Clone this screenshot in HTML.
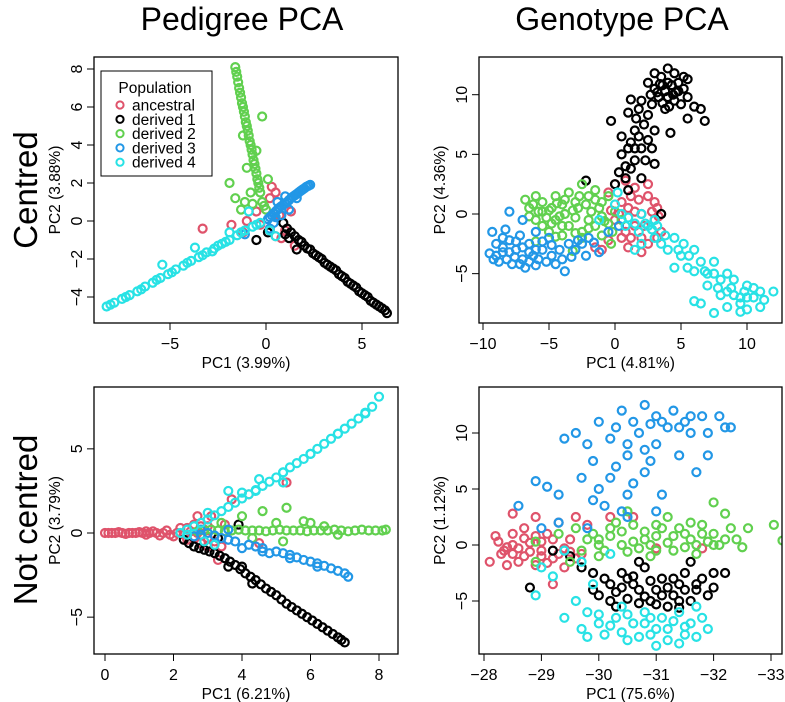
<!DOCTYPE html>
<html><head><meta charset="utf-8"><style>
body{margin:0;background:#fff}
svg{display:block;font-family:"Liberation Sans",sans-serif}
</style></head><body>
<svg id="s" width="785" height="702" viewBox="0 0 785 702">
<text x="242" y="30" font-size="32" text-anchor="middle">Pedigree PCA</text>
<text x="622" y="30" font-size="32" text-anchor="middle">Genotype PCA</text>
<text transform="translate(37,190) rotate(-90)" font-size="33" text-anchor="middle">Centred</text>
<text transform="translate(37,520) rotate(-90)" font-size="33" text-anchor="middle">Not centred</text>
</svg>
<script>
const colors=["#DF536B","#000000","#61D04F","#2297E6","#28E2E5"];
const seriesNames=["ancestral","derived 1","derived 2","derived 3","derived 4"];
// Panel 1: pedigree centred
const p1Anc=[[0.3,1.8],[0.5,1.5],[0.2,1.2],[-0.5,0.5],[-1,0],[-1.8,-0.2],[-3.3,-0.4],[0.5,-0.8],[0.8,-0.9],[1.5,-1.3],[1,-0.5],[-0.3,-0.2],[0.7,0.3],[1.3,0.5],[-1.2,-0.6],[0.2,-0.5]];
const p1D1=[[0.9,-0.1],[1.1,-0.4],[1.3,-0.6],[1.0,-0.7],[1.5,-0.8],[1.7,-1.0],[2.0,-1.3],[1.6,-1.5],[2.3,-1.5],[2.6,-1.8],[2.9,-2.0],[3.2,-2.3],[3.5,-2.5],[3.8,-2.8],[4.1,-3.0],[4.4,-3.3],[4.7,-3.5],[5.0,-3.8],[5.3,-4.0],[5.6,-4.3],[5.9,-4.5],[6.2,-4.7],[6.3,-4.85],[-0.5,-1.0],[0.1,-0.6],[2.15,-1.45],[2.75,-1.9],[3.35,-2.4],[3.95,-2.9],[4.55,-3.4],[5.15,-3.9],[5.75,-4.4],[1.2,-0.9],[1.85,-1.1],[2.45,-1.7],[3.05,-2.2],[3.65,-2.6],[4.25,-3.2],[4.85,-3.7],[5.45,-4.2],[6.05,-4.6]];
const p1D2=[[-1.6,8.1],[-1.5,7.6],[-1.4,7.0],[-1.3,6.5],[-1.2,6.0],[-1.1,5.5],[-1.0,5.0],[-0.9,4.5],[-0.8,4.0],[-0.7,3.5],[-0.6,3.0],[-0.5,2.5],[-0.4,2.0],[-0.3,1.5],[-0.2,1.0],[0,0.6],[-1.9,2.0],[-1.6,1.2],[-1.3,0.6],[-0.8,1.5],[-1.0,2.8],[-0.2,5.5],[-0.5,3.7],[0.1,2.2],[-1.2,4.5],[-1.1,1.0],[-0.7,0.9],[-1.45,7.3],[-1.25,6.2],[-1.05,5.2],[-0.85,4.2],[-0.65,3.2],[-0.45,2.2],[-1.55,7.85],[-1.35,6.75],[-1.15,5.75],[-0.95,4.75],[-0.75,3.75],[-0.55,2.75],[-0.35,1.75],[-0.1,0.8]];
const p1D3=[[0.1,0.1],[0.3,0.3],[0.5,0.5],[0.7,0.7],[0.9,0.85],[1.1,1.0],[1.3,1.2],[1.5,1.35],[1.7,1.5],[1.9,1.65],[2.1,1.8],[2.3,1.9],[0.4,-0.1],[0.8,0.3],[1.2,0.6],[0.2,-0.4],[-1.1,-0.7],[0.6,1.0],[1.0,1.3],[1.6,1.2],[0.5,0.2],[0.2,0.2],[0.4,0.4],[0.6,0.6],[0.8,0.78],[1.0,0.92],[1.2,1.1],[1.4,1.28],[1.6,1.42],[1.8,1.58],[2.0,1.72],[2.2,1.85]];
const p1D4=[[-0.3,-0.1],[-0.7,-0.3],[-1.1,-0.5],[-1.5,-0.75],[-1.9,-1.0],[-2.3,-1.2],[-2.7,-1.45],[-3.1,-1.65],[-3.5,-1.9],[-3.9,-2.1],[-4.3,-2.35],[-4.7,-2.55],[-5.1,-2.8],[-5.5,-3.0],[-5.9,-3.25],[-6.3,-3.45],[-6.7,-3.7],[-7.1,-3.9],[-7.5,-4.1],[-7.9,-4.3],[-8.3,-4.5],[-1.9,-0.6],[-2.8,-1.6],[-5.4,-2.3],[-3.7,-1.4],[-0.9,0.5],[0.2,-0.5],[0.5,-0.8],[-2.5,-1.3],[-3.3,-1.8],[-4.1,-2.2],[-4.9,-2.7],[-5.7,-3.1],[-6.5,-3.6],[-7.3,-4.0],[-8.1,-4.4],[-0.5,-0.2],[-1.3,-0.6],[-2.1,-1.1]];
// Panel 2: genotype centred
const p2Anc=[[-0.5,1.8],[0,2.5],[0.8,2.8],[1.5,2.2],[2.5,1.5],[3.0,1.0],[3.2,0.5],[3.0,-0.5],[3.5,-1.5],[2.5,-2.5],[2.0,-3.2],[1.0,-2.8],[0.5,-2.0],[-0.5,-2.2],[-1.0,-3.0],[-1.5,-2.8],[1.0,0.5],[2.0,0],[0,-0.5],[1.5,-1.0],[2.5,2.5],[1.8,1.2],[0.5,1.0],[-0.3,0.3],[3.2,-2.0],[0.8,-1.5],[1.5,0.2],[2.2,-1.0],[2.8,0.2],[1.2,1.5],[0.3,0.0],[2.0,-2.0],[1.2,-2.0],[3.3,-0.2]];
const p2D1=[[0,2.5],[0.3,3.5],[0.8,4.0],[0.5,5.0],[1.0,5.5],[1.5,4.5],[1.2,6.0],[1.8,6.5],[2.0,5.5],[1.5,7.0],[2.2,7.5],[1.0,8.5],[1.8,8.8],[2.5,8.3],[2.8,9.2],[3.0,10.5],[3.5,11.5],[4.0,12.2],[3.3,9.8],[3.8,10.3],[4.3,10.8],[4.8,11.0],[5.2,10.5],[4.5,9.5],[3.8,8.8],[5.0,9.2],[5.5,9.8],[6.0,9.0],[6.5,8.8],[6.8,7.8],[5.5,8.0],[4.2,6.8],[3.0,7.0],[2.5,6.2],[3.0,4.2],[2.0,3.0],[-0.3,7.8],[2.5,11.0],[3.0,11.8],[4.5,11.8],[5.5,11.3],[2.0,9.5],[1.2,9.6],[3.5,0],[1.0,2.0],[-2.2,2.8],[0.5,6.5],[4.0,9.8],[3.6,10.8],[4.6,10.2],[3.2,10.2],[3.6,9.3],[4.0,11.0],[4.4,10.0],[4.8,10.3],[5.2,11.5],[3.4,10.9],[4.1,9.0],[2.7,10.0],[1.6,8.0],[2.3,4.5],[1.2,3.8],[0.8,3.0],[2.8,5.5],[1.5,5.5]];
const p2D2=[[-6.8,1.2],[-6.5,0.5],[-6.0,1.5],[-5.5,1.0],[-5.0,0.3],[-4.5,1.5],[-4.0,0.8],[-3.5,1.8],[-3.0,1.0],[-2.5,2.5],[-2.0,1.5],[-1.5,2.0],[-1.0,1.0],[-0.5,1.5],[-6.0,-0.5],[-5.5,-1.0],[-5.0,-1.5],[-4.5,-0.5],[-4.0,-1.8],[-3.5,-1.0],[-3.0,-0.3],[-2.5,-1.5],[-2.0,-0.5],[-1.5,-1.0],[-1.0,-0.2],[-0.5,-0.8],[0,0.2],[0.5,-0.5],[-6.0,-2.3],[-3.2,-3.1],[-4.5,-1.9],[-2.5,-2.0],[-0.3,-2.5],[-5.8,0.2],[-3.8,0],[-2.8,0.5],[-1.8,0.2],[-4.8,-0.8],[-6.5,-0.2],[-5.5,0.2],[-4.8,0.5],[-4.2,-0.2],[-3.8,1.2],[-3.2,0.3],[-2.2,0.8],[-1.2,0.5],[-0.8,-0.6],[-5.2,-0.3],[-4.0,-1.0],[-3.0,-1.6],[-2.0,-1.2],[-6.2,0.8],[-1.5,1.2],[-2.7,1.5],[-4.4,0.9],[-0.2,-1.5],[-1.0,-1.8]];
const p2D3=[[-9.3,-1.5],[-9.5,-3.3],[-9.0,-2.5],[-8.8,-4.0],[-8.5,-3.2],[-8.3,-1.3],[-8.0,-2.2],[-8.0,0.2],[-7.8,-4.2],[-7.5,-3.0],[-7.2,-1.8],[-7.0,-3.8],[-6.8,-4.5],[-6.5,-2.5],[-6.2,-3.5],[-6.0,-4.3],[-5.5,-3.0],[-5.2,-4.0],[-5.0,-2.0],[-4.8,-3.5],[-4.5,-4.2],[-4.2,-3.0],[-3.8,-4.8],[-3.5,-2.5],[-3.0,-3.0],[-2.5,-2.5],[-2.2,-3.5],[-2.0,-2.0],[-1.2,-3.2],[-0.5,-1.5],[0.3,-1.0],[-7.0,-0.5],[-6.0,-1.5],[-8.5,-2.8],[-9.2,-3.8],[-7.2,-4.2],[-6.5,-3.2],[-9.0,-3.5],[-8.5,-2.0],[-8.0,-3.2],[-7.5,-2.3],[-7.0,-2.8],[-6.5,-4.0],[-5.8,-3.8],[-5.5,-2.3],[-4.8,-2.6],[-4.0,-3.8],[-3.3,-3.6],[-2.8,-2.2],[-6.0,-3.0],[-8.2,-3.8],[-7.6,-3.6],[-1.6,-2.4]];
const p2D4=[[0.2,1.8],[0,0.8],[0.5,0],[1.0,-0.3],[1.5,-0.8],[2.0,0],[2.5,-1.0],[3.0,-2.0],[2.0,-2.5],[1.5,-3.0],[3.5,-2.5],[4.0,-3.0],[4.5,-2.0],[5.0,-3.5],[4.5,-4.5],[5.5,-4.5],[6.0,-3.0],[6.5,-4.0],[7.0,-5.0],[7.5,-4.0],[7.0,-6.0],[8.0,-5.5],[8.5,-6.5],[9.0,-5.5],[9.5,-7.0],[10.0,-6.0],[10.5,-7.0],[11.0,-6.5],[12.0,-6.5],[11.0,-7.8],[9.5,-7.5],[8.5,-7.8],[7.5,-8.3],[6.5,-7.5],[6.0,-7.3],[10.0,-8.0],[8.0,-6.8],[9.5,-8.2],[3.0,-0.5],[-1.2,-0.5],[1.8,-1.5],[2.8,-1.3],[3.8,-1.8],[5.2,-2.5],[6.0,-4.8],[7.5,-5.0],[8.5,-5.0],[9.0,-6.8],[10.0,-7.0],[10.5,-6.2],[11.3,-7.2],[9.8,-6.5],[8.8,-6.2],[7.8,-6.2],[6.8,-4.8],[5.6,-3.5],[4.8,-3.0],[3.2,-1.0],[0.8,-1.0],[2.3,-0.8]];
// Panel 3: pedigree not centred
const p3Anc=[[0,0],[0.2,0],[0.4,0.05],[0.6,-0.05],[0.8,0],[1.0,0.05],[1.2,-0.1],[1.4,0.1],[1.6,-0.15],[1.8,0.15],[2.0,-0.2],[2.2,0.3],[2.4,-0.4],[2.6,0.5],[2.8,-0.6],[2.4,0.3],[3.0,-0.8],[3.2,-1.2],[3.3,-1.6],[2.7,1.0],[3.1,1.0],[3.7,2.0],[4.2,2.3],[5.3,3.0],[4.5,-0.6],[2.9,0.2],[3.5,0.5],[1.5,0],[0.9,0],[0.3,0],[2.1,0],[2.7,0],[1.2,0.1],[1.9,-0.1],[0.1,0],[0.5,0],[0.7,0],[1.1,0],[1.3,0],[1.7,0],[2.3,-0.1],[2.5,0.1],[2.6,-0.3],[2.8,0.4],[3.0,-0.3],[3.0,0.4],[3.2,-0.5],[3.4,-0.8]];
const p3D1=[[2.3,-0.4],[2.6,-0.8],[2.9,-1.0],[3.2,-1.2],[3.5,-1.5],[3.8,-1.9],[4.1,-2.4],[4.4,-2.8],[4.7,-3.3],[5.0,-3.7],[5.3,-4.2],[5.6,-4.6],[5.9,-5.0],[6.2,-5.4],[6.5,-5.8],[6.8,-6.2],[7.0,-6.5],[3.6,-2.0],[4.0,-2.0],[4.3,-3.0],[3.3,-0.3],[3.9,0.5],[4.85,-3.5],[5.45,-4.4],[6.05,-5.2],[6.65,-6.0],[2.45,-0.6],[2.75,-0.9],[3.05,-1.1],[3.35,-1.35],[3.65,-1.7],[3.95,-2.15],[4.25,-2.6],[4.55,-3.05],[5.15,-3.95],[5.75,-4.8],[6.35,-5.6],[6.9,-6.35]];
const p3D2=[[2.7,0.1],[3.1,0.2],[3.5,0.1],[3.9,0.2],[4.3,0.15],[4.7,0.1],[5.1,0.2],[5.5,0.15],[5.9,0.1],[6.3,0.15],[6.7,0.2],[7.1,0.1],[7.5,0.2],[7.9,0.15],[8.2,0.2],[4.6,1.3],[5.3,1.5],[4.0,1.0],[5.8,0.7],[5.2,-0.5],[6.0,0.6],[3.4,0.6],[4.3,-0.3],[6.8,-0.1],[2.9,0.15],[3.3,0.15],[3.7,0.15],[4.1,0.15],[4.5,0.15],[4.9,0.15],[5.3,0.15],[5.7,0.15],[6.1,0.15],[6.5,0.15],[6.9,0.15],[7.3,0.15],[7.7,0.15],[8.1,0.15],[5.0,0.6],[6.4,0.4]];
const p3D3=[[2.6,-0.2],[3.0,0],[3.4,-0.3],[3.8,-0.5],[4.2,-0.7],[4.6,-0.9],[5.0,-1.1],[5.4,-1.3],[5.8,-1.6],[6.2,-1.8],[6.6,-2.1],[7.0,-2.4],[7.1,-2.6],[4.0,-0.9],[4.8,-1.2],[3.6,0.2],[2.8,0.2],[2.8,-0.1],[3.2,-0.15],[3.6,-0.4],[4.4,-0.8],[5.2,-1.2],[5.6,-1.45],[6.0,-1.7],[6.4,-1.95],[6.8,-2.25],[4.6,-1.1],[5.4,-1.5],[6.2,-2.0]];
const p3D4=[[2.2,0],[2.6,0.4],[3.0,0.8],[3.4,1.3],[3.8,1.8],[4.2,2.3],[4.6,2.8],[5.0,3.3],[5.4,3.9],[5.8,4.4],[6.2,5.0],[6.6,5.6],[7.0,6.2],[7.4,6.8],[7.8,7.5],[8.0,8.1],[3.6,2.5],[2.4,-0.1],[2.9,-0.5],[3.2,-0.7],[4.5,3.2],[5.2,3.0],[4.4,2.55],[5.2,3.6],[6.0,4.7],[6.8,5.9],[7.6,7.1],[2.4,0.2],[2.8,0.6],[3.2,1.05],[3.6,1.55],[4.0,2.05],[4.4,2.5],[4.8,3.05],[5.2,3.6],[5.6,4.15],[6.0,4.7],[6.4,5.3],[6.8,5.9],[7.2,6.5],[7.6,7.15],[3.0,1.2],[4.0,2.4]];
// Panel 4: genotype not centred
const p4Anc=[[-28.1,-1.5],[-28.2,0.8],[-28.25,0.3],[-28.35,-0.5],[-28.4,-1.8],[-28.5,2.8],[-28.5,1.0],[-28.6,-0.3],[-28.7,-1.0],[-28.7,1.5],[-28.8,0.2],[-28.9,-1.8],[-28.9,2.5],[-29.0,-0.5],[-29.1,1.0],[-29.2,-1.2],[-29.3,2.0],[-29.4,-2.0],[-29.5,0.5],[-29.6,2.5],[-29.7,-0.8],[-29.8,1.8],[-30.2,2.5],[-30.6,2.5],[-29.2,-3.5],[-28.5,-0.8],[-28.9,0.8],[-29.4,-0.3],[-31.0,-0.3],[-31.8,-0.3],[-28.3,-0.8],[-28.5,0.0],[-28.6,-1.5],[-28.7,0.6],[-28.8,-0.6],[-29.0,0.3],[-29.1,-1.6],[-29.2,0.5],[-29.3,-0.8],[-29.5,-0.6],[-28.4,-0.2],[-29.6,-1.2],[-29.0,-1.0]];
const p4D1=[[-29.2,-0.5],[-29.5,-1.0],[-29.7,-2.0],[-29.9,-2.5],[-30.0,-4.5],[-30.2,-3.5],[-30.4,-2.5],[-30.5,-4.8],[-30.6,-3.5],[-30.8,-2.0],[-30.9,-5.0],[-31.0,-4.0],[-31.1,-3.0],[-31.2,-5.5],[-31.3,-4.5],[-31.4,-3.5],[-31.5,-2.5],[-31.6,-5.0],[-31.7,-4.0],[-31.8,-3.0],[-31.9,-4.5],[-32.0,-2.5],[-32.2,-2.5],[-32.0,-3.8],[-28.8,-3.8],[-29.9,-4.0],[-30.3,-5.5],[-30.7,-1.5],[-31.4,-5.0],[-31.6,-1.5],[-30.1,-3.0],[-30.3,-4.2],[-30.5,-3.0],[-30.7,-4.0],[-30.7,-5.2],[-30.9,-3.2],[-31.1,-4.5],[-31.3,-3.0],[-31.5,-4.0],[-31.7,-3.5],[-30.2,-5.0],[-30.6,-2.8],[-31.0,-5.3],[-31.4,-5.6],[-31.2,-3.8],[-30.4,-3.8],[-30.8,-4.6]];
const p4D2=[[-28.9,0.3],[-29.3,1.0],[-29.6,1.5],[-29.8,0.5],[-30.0,-1.0],[-30.2,1.5],[-30.4,0],[-30.6,1.8],[-30.8,0.5],[-31.0,-0.5],[-31.1,1.5],[-31.3,0.8],[-31.5,-0.2],[-31.6,2.0],[-31.8,1.0],[-32.0,0],[-32.0,3.8],[-32.2,2.8],[-32.3,1.5],[-32.4,0.5],[-32.6,1.5],[-33.05,1.8],[-33.2,0.4],[-30.5,3.0],[-31.2,2.5],[-30.0,0.5],[-29.5,-1.5],[-28.9,-1.5],[-29.7,-0.5],[-30.9,-1.0],[-31.7,-0.8],[-32.5,-0.2],[-30.0,0.0],[-30.2,0.8],[-30.4,1.2],[-30.6,0.3],[-30.8,1.2],[-31.0,0.8],[-31.2,0.2],[-31.4,1.5],[-31.6,0.5],[-31.8,1.8],[-32.0,1.0],[-32.2,0.5],[-30.1,-0.5],[-30.5,-0.6],[-30.9,0.0],[-31.3,-0.5],[-31.7,0.0],[-32.1,0.0],[-30.3,2.0],[-31.0,1.8],[-31.5,1.0],[-29.9,1.0],[-30.7,-0.3],[-31.9,0.3]];
const p4D3=[[-28.6,3.5],[-28.9,5.7],[-29.1,5.2],[-29.3,4.5],[-29.4,9.5],[-29.6,10.0],[-29.8,9.0],[-29.9,7.5],[-29.7,6.0],[-30.0,11.0],[-30.0,5.0],[-30.1,3.5],[-30.2,9.5],[-30.3,7.0],[-30.4,12.0],[-30.5,8.0],[-30.5,4.5],[-30.6,11.0],[-30.7,10.0],[-30.8,6.5],[-30.8,12.5],[-31.0,11.5],[-31.0,9.0],[-31.1,4.5],[-31.2,10.5],[-31.3,12.0],[-31.4,8.0],[-31.5,11.0],[-31.6,10.0],[-31.7,6.5],[-31.8,11.5],[-31.9,10.0],[-32.1,11.5],[-32.2,10.5],[-32.3,10.5],[-31.9,8.0],[-29.3,2.0],[-29.8,1.5],[-30.5,2.5],[-31.0,3.0],[-29.0,1.5],[-30.3,10.5],[-30.9,10.8],[-31.1,11.0],[-31.4,10.5],[-31.6,11.5],[-30.5,9.0],[-30.8,8.5],[-30.2,6.0],[-30.6,5.5],[-30.9,7.5],[-29.9,4.0],[-30.4,3.0]];
const p4D4=[[-28.9,-4.5],[-29.2,-2.8],[-29.4,-6.5],[-29.6,-5.0],[-29.7,-7.5],[-29.8,-6.0],[-29.9,-3.5],[-30.0,-7.0],[-30.1,-8.0],[-30.3,-6.5],[-30.4,-5.5],[-30.5,-8.5],[-30.6,-7.0],[-30.8,-6.0],[-30.9,-8.0],[-31.0,-9.0],[-31.1,-6.5],[-31.2,-7.5],[-31.4,-6.0],[-31.5,-8.0],[-31.6,-7.0],[-31.8,-6.5],[-31.9,-7.5],[-31.7,-5.5],[-29.4,-0.5],[-29.7,-1.5],[-30.2,-0.8],[-29.0,-2.0],[-30.2,-7.2],[-30.4,-7.8],[-30.7,-8.2],[-30.8,-7.0],[-31.0,-7.5],[-31.2,-8.5],[-31.3,-6.8],[-31.5,-7.3],[-30.5,-6.2],[-30.9,-6.5],[-31.7,-8.2],[-29.8,-8.2],[-30.0,-6.2],[-31.4,-8.8]];
const p1XTicks=[-5,0,5], p1YTicks=[-4,-2,0,2,4,6,8];
const p2XTicks=[-10,-5,0,5,10], p2YTicks=[-5,0,5,10];
const p3XTicks=[0,2,4,6,8], p3YTicks=[-5,0,5];
const p4XTicks=[-28,-29,-30,-31,-32,-33], p4YTicks=[-5,0,5,10];

const NS="http://www.w3.org/2000/svg";
const svg=document.getElementById('s');
function mk(tag,attrs,parent){const e=document.createElementNS(NS,tag);for(const k in attrs)e.setAttribute(k,attrs[k]);(parent||svg).appendChild(e);return e;}
function fmt(v){return v<0?'\u2212'+Math.abs(v):String(v);}
const panels=[
 {id:'pedigree-centred',box:[94,57,398,323],xr:[0,266,19.2],yr:[0,221,19],xt:p1XTicks,yt:p1YTicks,xl:'PC1 (3.99%)',yl:'PC2 (3.88%)',s:[p1Anc,p1D1,p1D2,p1D3,p1D4],legend:true},
 {id:'genotype-centred',box:[479,57,782,323],xr:[0,615,13.2],yr:[0,214,11.93],xt:p2XTicks,yt:p2YTicks,xl:'PC1 (4.81%)',yl:'PC2 (4.36%)',s:[p2Anc,p2D1,p2D2,p2D3,p2D4]},
 {id:'pedigree-not-centred',box:[94,387,398,654],xr:[0,105,34.25],yr:[0,533,16.83],xt:p3XTicks,yt:p3YTicks,xl:'PC1 (6.21%)',yl:'PC2 (3.79%)',s:[p3Anc,p3D1,p3D2,p3D3,p3D4]},
 {id:'genotype-not-centred',box:[479,387,782,654],xr:[-28,484,-57.4],yr:[0,545,11.2],xt:p4XTicks,yt:p4YTicks,xl:'PC1 (75.6%)',yl:'PC2 (1.12%)',s:[p4Anc,p4D1,p4D2,p4D3,p4D4]}
];
panels.forEach(p=>{
 const [x0,y0,x1,y1]=p.box;
 const X=v=>p.xr[1]+(v-p.xr[0])*p.xr[2];
 const Y=v=>p.yr[1]-(v-p.yr[0])*p.yr[2];
 const g=mk('g',{});
 
 
 const cp=mk('clipPath',{id:'c-'+p.id},g);mk('rect',{x:x0,y:y0,width:x1-x0,height:y1-y0},cp);
 const pts=mk('g',{'clip-path':'url(#c-'+p.id+')'},g);
 p.s.forEach((arr,si)=>{
  const sg=mk('g',{fill:'none',stroke:colors[si],'stroke-width':2.2},pts);
  
  
  arr.forEach(d=>{const c=mk('circle',{cx:X(d[0]),cy:Y(d[1]),r:4},sg);
   
   });
 });
 const r=mk('rect',{x:x0,y:y0,width:x1-x0,height:y1-y0,fill:'none',stroke:'#000','stroke-width':1.3},g);
 
 
 const xa=mk('g',{},g);
 
 
 const xs=p.xt.map(X);
 mk('line',{x1:Math.min(...xs),x2:Math.max(...xs),y1:y1,y2:y1,stroke:'#000'},xa);
 p.xt.forEach(t=>{const x=X(t);mk('line',{x1:x,x2:x,y1:y1,y2:y1+7,stroke:'#000'},xa);
  const tx=mk('text',{x:x,y:y1+26,'font-size':16,'text-anchor':'middle'},xa);tx.textContent=fmt(t);
  
  });
 const xl=mk('text',{x:(x0+x1)/2,y:y1+45,'font-size':15.5,'text-anchor':'middle'},xa);xl.textContent=p.xl;
 
 
 const ya=mk('g',{},g);
 
 
 const ys=p.yt.map(Y);
 mk('line',{x1:x0,x2:x0,y1:Math.min(...ys),y2:Math.max(...ys),stroke:'#000'},ya);
 p.yt.forEach(t=>{const y=Y(t);mk('line',{x1:x0-7,x2:x0,y1:y,y2:y,stroke:'#000'},ya);
  const tx=mk('text',{transform:`translate(${x0-12},${y}) rotate(-90)`,'font-size':16,'text-anchor':'middle'},ya);tx.textContent=fmt(t);
  
  });
 const yl=mk('text',{transform:`translate(${x0-34},${(y0+y1)/2}) rotate(-90)`,'font-size':15.5,'text-anchor':'middle'},ya);yl.textContent=p.yl;
 
 
 if(p.legend){
  const lg=mk('g',{},g);
  
  
  mk('rect',{x:101,y:71,width:111,height:105,fill:'#fff',stroke:'#000','stroke-width':1},lg);
  const lt=mk('text',{x:155,y:93,'font-size':15.5,'text-anchor':'middle'},lg);lt.textContent='Population';
  
  
  seriesNames.forEach((n,i)=>{const yy=105+i*14.3;
   const e=mk('g',{},lg);
   
   
   mk('circle',{cx:120,cy:yy,r:3.6,fill:'none',stroke:colors[i],'stroke-width':2},e);
   const t=mk('text',{x:132,y:yy+5.5,'font-size':15.5},e);t.textContent=n;});
 }
});
</script>
</body></html>
